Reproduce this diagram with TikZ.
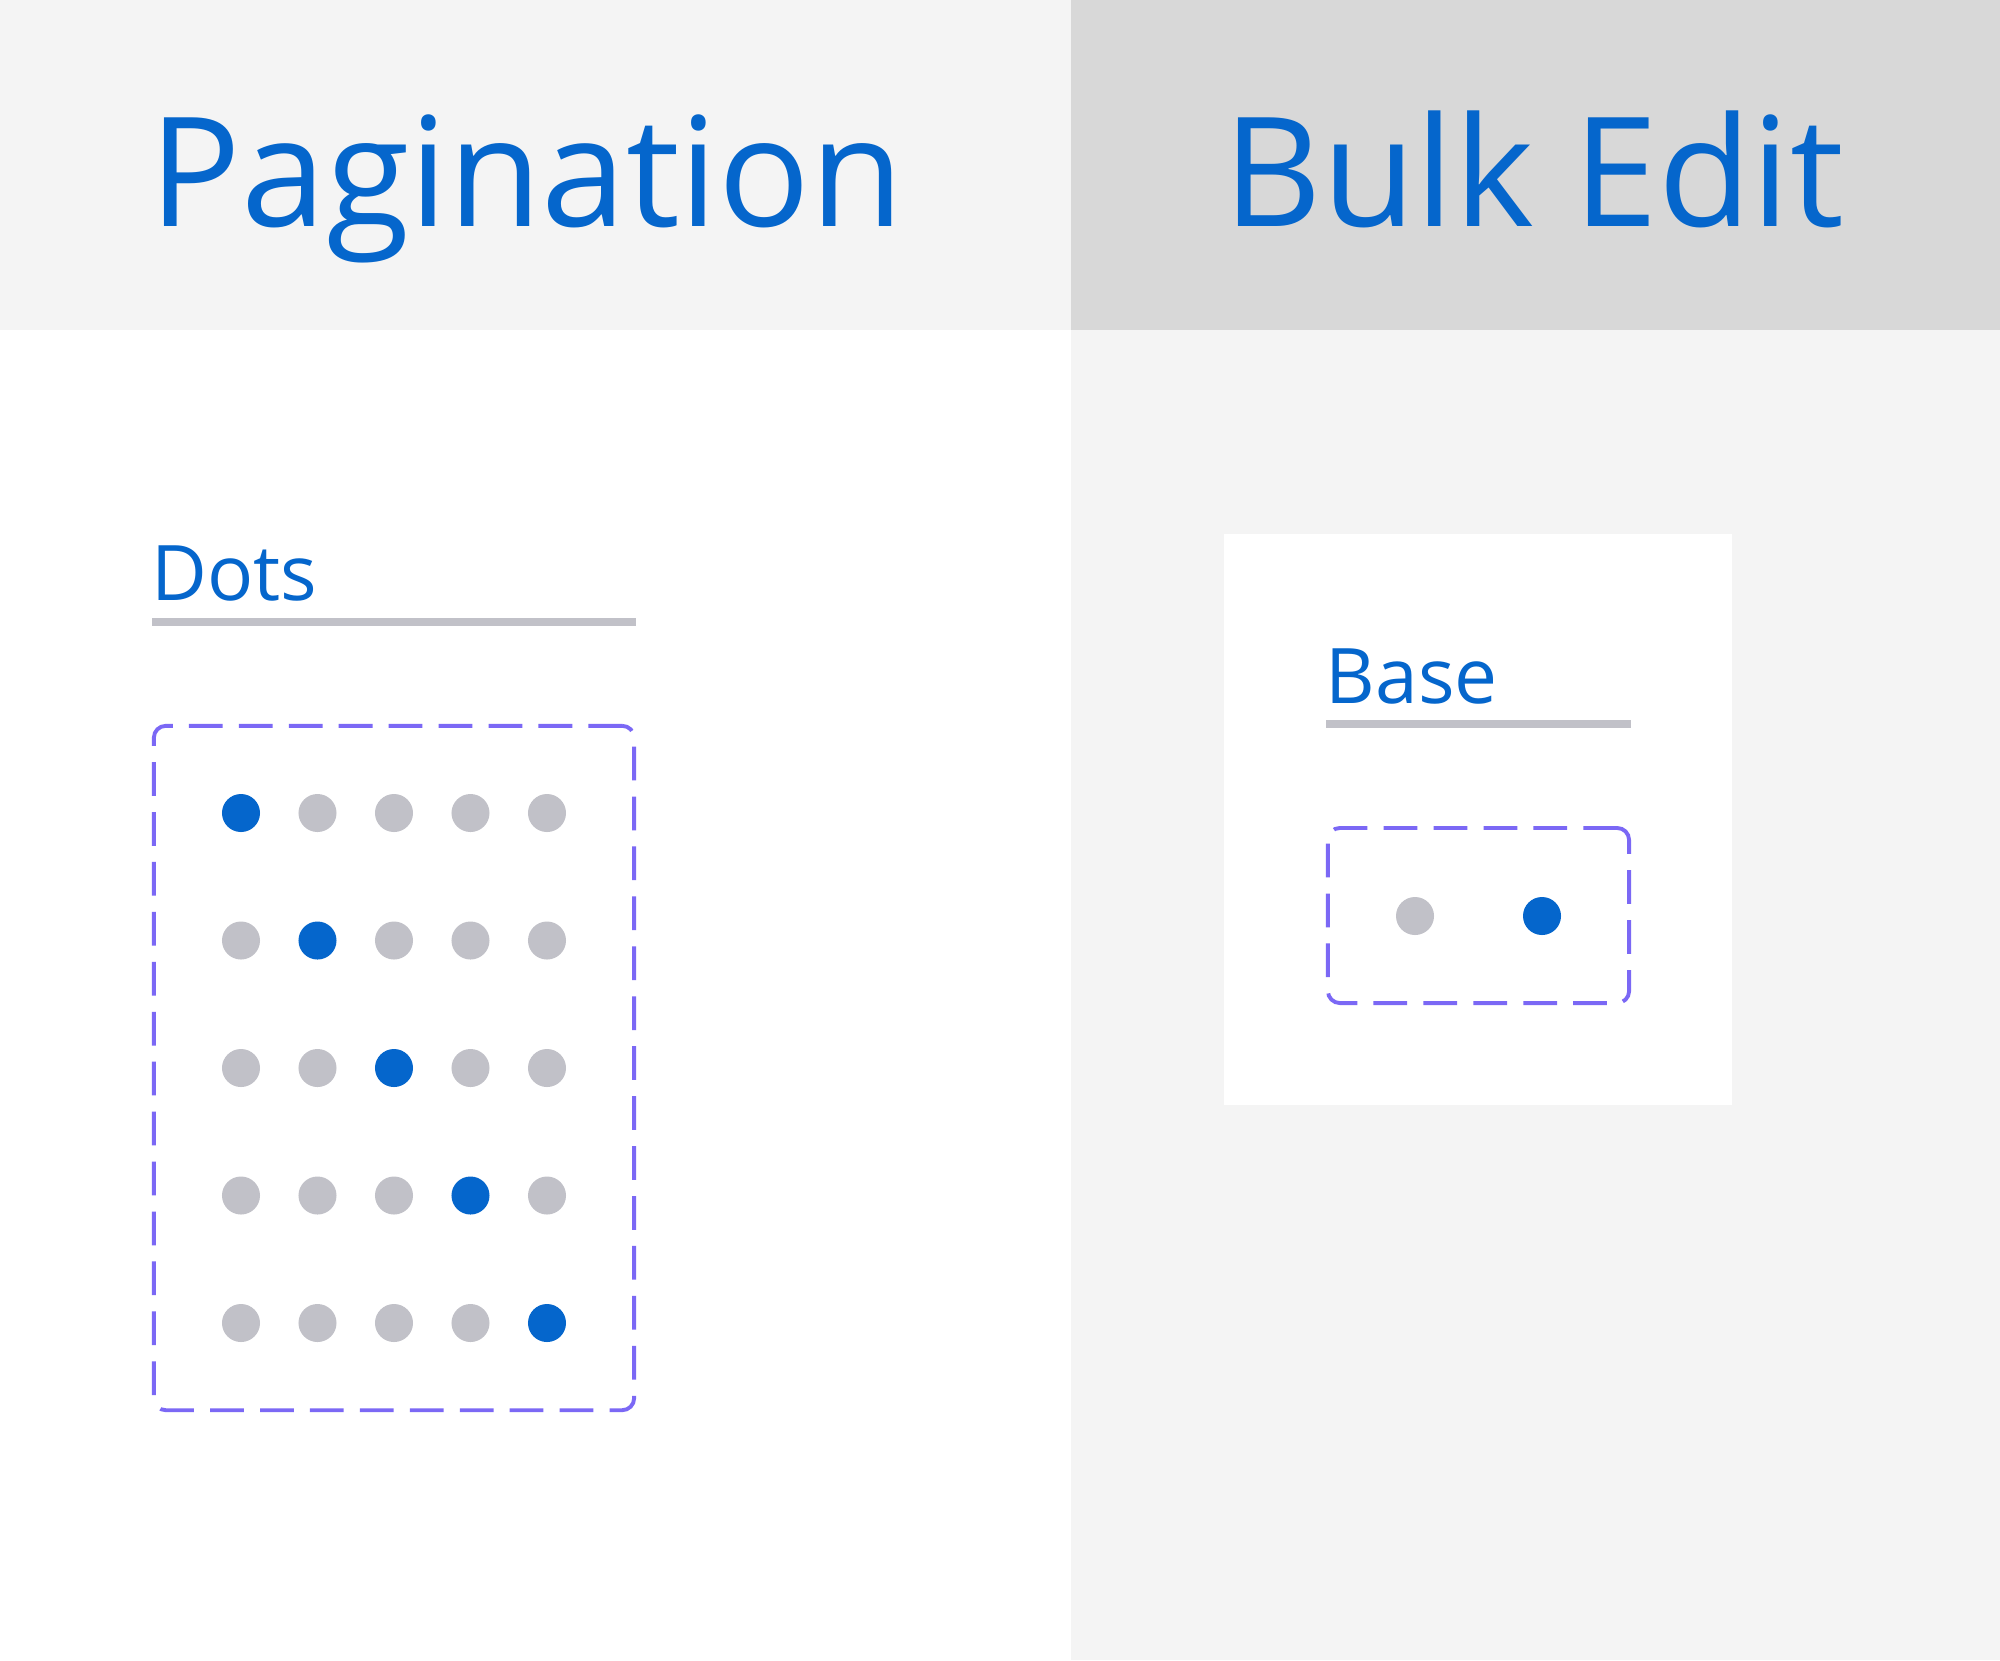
\documentclass[tikz,border=0pt]{standalone}
\usepackage{fontspec}
\setmainfont{Open Sans}
\definecolor{ublue}{RGB}{5,102,204}
\definecolor{ugrey}{RGB}{193,193,200}
\definecolor{upurple}{RGB}{123,104,245}
\definecolor{lightbg}{RGB}{244,244,244}
\definecolor{midbg}{RGB}{216,216,216}
\begin{document}
\begin{tikzpicture}[x=0.01cm,y=-0.01cm,
  dot/.style={circle,minimum size=0.38cm,inner sep=0,draw=none},
  on/.style={dot,fill=ublue},
  off/.style={dot,fill=ugrey},
  title/.style={anchor=base west,inner sep=0,text=ublue,font=\fontsize{43.3}{50}\selectfont},
  sub/.style={anchor=base west,inner sep=0,text=ublue,font=\fontsize{21.8}{26}\selectfont},
  rulebar/.style={draw=ugrey,line width=2.28pt},
  frame/.style={draw=upurple,line width=1.1pt,dash pattern=on 9.6pt off 4.6pt,rounded corners=3.4pt,inner sep=0}]
\useasboundingbox (0,0) rectangle (2000,1660);
% backgrounds
\fill[white] (0,0) rectangle (1071,1660);
\fill[lightbg] (1071,0) rectangle (2000,1660);
\fill[lightbg] (0,0) rectangle (1071,330);
\fill[midbg] (1071,0) rectangle (2000,330);
\fill[white] (1224,534) rectangle (1732,1105);
% titles
\node[title] (pag) at (149,226) {Pagination};
\node[title] (bulk) at (1223,226) {Bulk Edit};
% Dots section
\node[sub] (dotslbl) at (151,600) {Dots};
\coordinate (dl1) at (152,622);
\coordinate (dl2) at (636,622);
\draw[rulebar] (dl1) -- (dl2);
\node[frame,minimum width=4.8cm,minimum height=6.84cm] (dotsframe) at (394,1068) {};
\foreach \r in {1,...,5}{
  \foreach \c in {1,...,5}{
    \pgfmathsetmacro{\xx}{241+(\c-1)*76.5}
    \pgfmathsetmacro{\yy}{813+(\r-1)*127.5}
    \ifnum\r=\c
      \node[on] (d-\r-\c) at (\xx,\yy) {};
    \else
      \node[off] (d-\r-\c) at (\xx,\yy) {};
    \fi
  }
}
% Base section
\node[sub] (baselbl) at (1325,703) {Base};
\coordinate (bl1) at (1326,724);
\coordinate (bl2) at (1631,724);
\draw[rulebar] (bl1) -- (bl2);
\node[frame,minimum width=3.01cm,minimum height=1.75cm] (baseframe) at (1478.5,915.5) {};
\node[off] (b1) at (1415,916) {};
\node[on] (b2) at (1542,916) {};
\end{tikzpicture}
\end{document}
